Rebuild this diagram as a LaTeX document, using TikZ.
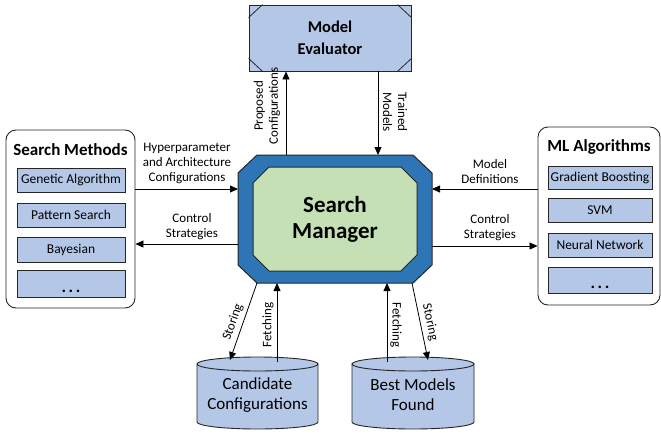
\documentclass[tikz,border=0pt]{standalone}
\usepackage{fontspec}
\setmainfont{Carlito}
\usetikzlibrary{arrows.meta,calc}
\definecolor{itemblue}{HTML}{B4C7E7}
\definecolor{smblue}{HTML}{2E75B6}
\definecolor{smgreen}{HTML}{C5E0B4}
\definecolor{edge}{HTML}{262626}
\begin{document}
\begin{tikzpicture}[x=1pt,y=-1pt,
  flow/.style={-{Triangle[length=8pt,width=7pt]}, line width=0.8pt},
  itembox/.style={draw=edge, fill=itemblue, line width=0.8pt, inner sep=0pt, font=\fontsize{13.5}{16}\selectfont},
  panel/.style={draw=edge, rounded corners=10pt, line width=0.9pt, fill=white, inner sep=0pt},
  lbl/.style={font=\fontsize{13}{15}\selectfont, align=center, inner sep=0pt},
  ttl/.style={font=\fontsize{17}{20}\selectfont\bfseries, inner sep=0pt},
  dots/.style={font=\fontsize{17}{18}\selectfont\bfseries, inner sep=0pt, anchor=base},
  cyltext/.style={font=\fontsize{17}{20}\selectfont, align=center, inner sep=0pt},
]
\useasboundingbox (0,0) rectangle (661,434);

% ---------- Model Evaluator ----------
\node[draw=edge, fill=itemblue, line width=0.9pt, minimum width=162pt, minimum height=66pt, inner sep=0pt,
  font=\fontsize{16.5}{22}\selectfont\bfseries, align=center] (me) at (330,38) {Model\\Evaluator};
\draw[edge, line width=0.8pt] ($(me.north west)+(14,0)$) -- ($(me.north west)+(0,13)$);
\draw[edge, line width=0.8pt] ($(me.north east)+(-14,0)$) -- ($(me.north east)+(0,13)$);
\draw[edge, line width=0.8pt] ($(me.south west)+(14,0)$) -- ($(me.south west)+(0,-13)$);
\draw[edge, line width=0.8pt] ($(me.south east)+(-14,0)$) -- ($(me.south east)+(0,-13)$);

% ---------- Search Manager ----------
\filldraw[fill=smblue, draw=edge, line width=1pt]
  (257,155) -- (413,155) -- (432,173) -- (432,265) -- (413,283) -- (257,283) -- (238,265) -- (238,173) -- cycle;
\filldraw[fill=smgreen, draw=edge, line width=1pt]
  (269,167) -- (401,167) -- (417,183) -- (417,255) -- (401,271) -- (269,271) -- (253,255) -- (253,183) -- cycle;
\node[minimum width=194pt, minimum height=128pt, inner sep=0pt, outer sep=0pt,
  font=\fontsize{23}{26}\selectfont\bfseries, align=center] (sm) at (335,219) {Search\\Manager};

% ---------- Search Methods panel ----------
\node[panel, minimum width=129pt, minimum height=178pt] (smp) at (70.5,219) {};
\node[ttl] (smt) at (70.5,150) {Search Methods};
\node[itembox, minimum width=108pt, minimum height=24pt] (ga) at (71,180) {Genetic Algorithm};
\node[itembox, minimum width=108pt, minimum height=24pt] (ps) at (71,215) {Pattern Search};
\node[itembox, minimum width=108pt, minimum height=25pt] (ba) at (71,249.5) {Bayesian};
\node[itembox, minimum width=108pt, minimum height=27pt] (sd) at (71,283.5) {};
\node[dots] (sdd) at (71,292) {.\kern2.5pt.\kern2.5pt.};

% ---------- ML Algorithms panel ----------
\node[panel, minimum width=122pt, minimum height=178pt] (mlp) at (599,216) {};
\node[ttl] (mlt) at (599,147) {ML Algorithms};
\node[itembox, minimum width=104pt, minimum height=23pt] (gb) at (600,177.5) {Gradient Boosting};
\node[itembox, minimum width=104pt, minimum height=24pt] (svm) at (600,210) {SVM};
\node[itembox, minimum width=104pt, minimum height=24pt] (nn) at (600,245) {Neural Network};
\node[itembox, minimum width=104pt, minimum height=26pt] (md) at (600,280) {};
\node[dots] (mdd) at (600,288) {.\kern2.5pt.\kern2.5pt.};

% ---------- Cylinders ----------
\begin{scope}[line width=0.9pt]
  \filldraw[fill=itemblue, draw=edge] (197,364) -- (197,422) arc[start angle=180, end angle=0, x radius=60.5, y radius=7] -- (318,364) -- cycle;
  \filldraw[fill=itemblue, draw=edge] (257.5,364) ellipse[x radius=60.5, y radius=7];
  \filldraw[fill=itemblue, draw=edge] (352,364) -- (352,422) arc[start angle=180, end angle=0, x radius=61, y radius=7] -- (474,364) -- cycle;
  \filldraw[fill=itemblue, draw=edge] (413,364) ellipse[x radius=61, y radius=7];
\end{scope}
\node[cyltext, minimum width=121pt, minimum height=72pt] (cc) at (257.5,395) {Candidate\\Configurations};
\node[cyltext, minimum width=122pt, minimum height=72pt] (bm) at (413,395) {Best Models\\Found};

% ---------- helper coordinates ----------
\coordinate (yh) at (0,189);
\coordinate (yc) at (0,244);
\coordinate (yd) at (0,189);
\coordinate (yr) at (0,246);
\coordinate (xp) at (286,0);
\coordinate (xt) at (378,0);
\coordinate (xfl) at (277,0);
\coordinate (xfr) at (387,0);
\coordinate (stl) at (257,283);
\coordinate (stle) at (230,360);
\coordinate (str) at (412,283);
\coordinate (stre) at (428,360);
\coordinate (cyt) at (0,362);

% ---------- connectors ----------
\draw[flow] (smp.east |- yh) -- (sm.west |- yh);
\draw[flow] (sm.west |- yc) -- (smp.east |- yc);
\draw[flow] (mlp.west |- yd) -- (sm.east |- yd);
\draw[flow] (sm.east |- yr) -- (mlp.west |- yr);
\draw[flow] (sm.north -| xp) -- (me.south -| xp);
\draw[flow] (me.south -| xt) -- (sm.north -| xt);
\draw[flow] (stl) -- (stle);
\draw[flow] (xfl |- cyt) -- (sm.south -| xfl);
\draw[flow] (xfr |- cyt) -- (sm.south -| xfr);
\draw[flow] (str) -- (stre);

% ---------- labels ----------
\node[lbl] (l1) at (187,163) {Hyperparameter\\and Architecture\\Configurations};
\node[lbl] (l2) at (192,227) {Control\\Strategies};
\node[lbl] (l3) at (490,172) {Model\\Definitions};
\node[lbl] (l4) at (490,228) {Control\\Strategies};
\node[lbl, rotate=90] (l5) at (267,106) {Proposed\\Configurations};
\node[lbl, rotate=-90] (l6) at (395,112) {Trained\\Models};
\node[lbl, rotate=70.7] (l7) at (233,322) {Storing};
\node[lbl, rotate=90] (l8) at (268,325) {Fetching};
\node[lbl, rotate=-90] (l9) at (396,325) {Fetching};
\node[lbl, rotate=-78.3] (l10) at (430,322) {Storing};
\end{tikzpicture}
\end{document}
